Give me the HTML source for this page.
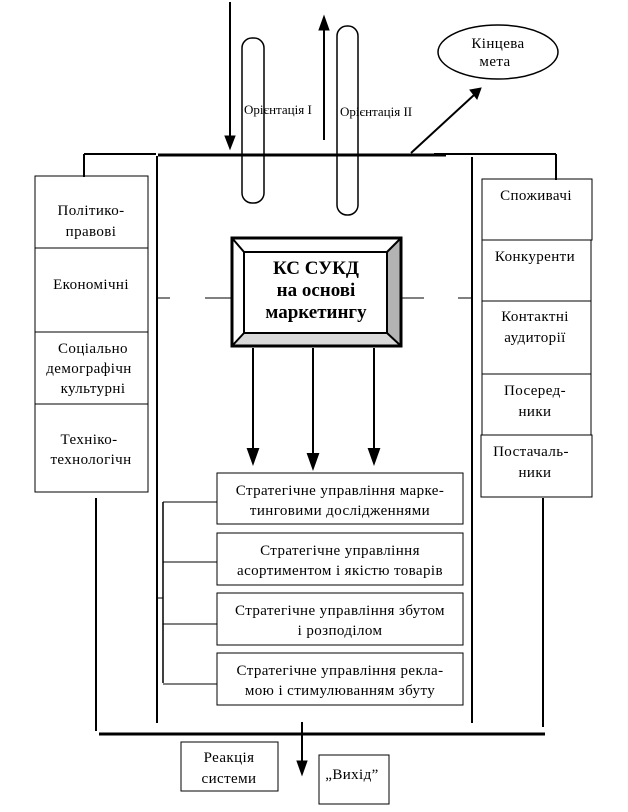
<!DOCTYPE html>
<html><head><meta charset="utf-8"><style>
body{margin:0;background:#fff;width:628px;height:807px;overflow:hidden}
svg text{font-family:"Liberation Serif",serif;font-size:15px;letter-spacing:0.4px;fill:#000}
</style></head><body>
<svg width="628" height="807" viewBox="0 0 628 807" xmlns="http://www.w3.org/2000/svg">
<g stroke="#000" fill="none">
<line x1="230" y1="2" x2="230" y2="136" stroke-width="2"/>
<path d="M225,136 L235,136 L230,149 Z" fill="#000"/>
<line x1="324" y1="140" x2="324" y2="28" stroke-width="2"/>
<path d="M319,30 L329,30 L324,16 Z" fill="#000"/>
<rect x="242" y="38" width="22" height="165" rx="10" stroke-width="1.5"/>
<rect x="337" y="26" width="21" height="189" rx="10" stroke-width="1.5"/>
<ellipse cx="498" cy="52" rx="60" ry="27" stroke-width="1.5"/>
<line x1="411" y1="153" x2="474" y2="95" stroke-width="2"/>
<path d="M470,90 L481,88 L477,99 Z" fill="#000" stroke-width="1"/>
<line x1="158" y1="155" x2="446" y2="155" stroke-width="3"/>
<line x1="84" y1="154" x2="156" y2="154" stroke-width="2"/>
<line x1="434" y1="154" x2="556" y2="154" stroke-width="2"/>
<line x1="84" y1="154" x2="84" y2="177" stroke-width="2"/>
<line x1="556" y1="154" x2="556" y2="180" stroke-width="2"/>
<line x1="157" y1="156" x2="157" y2="723" stroke-width="2"/>
<line x1="472" y1="157" x2="472" y2="723" stroke-width="2"/>
<rect x="35" y="176" width="113" height="316" stroke-width="1"/>
<line x1="35" y1="248" x2="148" y2="248"/><line x1="35" y1="332" x2="148" y2="332"/><line x1="35" y1="404" x2="148" y2="404"/>
<rect x="482" y="179" width="110" height="61"/>
<rect x="482" y="240" width="109" height="61"/>
<rect x="482" y="301" width="109" height="73"/>
<rect x="482" y="374" width="109" height="61"/>
<rect x="481" y="435" width="111" height="62"/>
<line x1="157" y1="298" x2="170" y2="298"/><line x1="205" y1="298" x2="231" y2="298"/>
<line x1="401" y1="298" x2="424" y2="298"/><line x1="458" y1="298" x2="472" y2="298"/>
</g>
<path d="M387,252 L401,238 L401,346 L387,333 Z" fill="#b3b3b3"/>
<path d="M244,333 L387,333 L401,346 L232,346 Z" fill="#d9d9d9"/>
<g stroke="#000" fill="none" stroke-width="2">
<rect x="232" y="238" width="169" height="108" stroke-width="3"/>
<rect x="244" y="252" width="143" height="81"/>
<line x1="232" y1="238" x2="244" y2="252"/><line x1="401" y1="238" x2="387" y2="252"/>
<line x1="232" y1="346" x2="244" y2="333"/><line x1="401" y1="346" x2="387" y2="333"/>
<line x1="253" y1="348" x2="253" y2="450"/><path d="M248,449 L258,449 L253,463 Z" fill="#000"/>
<line x1="313" y1="348" x2="313" y2="455"/><path d="M308,454 L318,454 L313,468 Z" fill="#000"/>
<line x1="374" y1="348" x2="374" y2="450"/><path d="M369,449 L379,449 L374,463 Z" fill="#000"/>
</g>
<g stroke="#000" fill="none" stroke-width="1">
<rect x="217" y="473" width="246" height="51"/>
<rect x="217" y="533" width="246" height="52"/>
<rect x="217" y="593" width="246" height="52"/>
<rect x="217" y="653" width="246" height="52"/>
<line x1="163" y1="502" x2="163" y2="683" stroke-width="1.5"/>
<line x1="163" y1="502" x2="217" y2="502"/><line x1="163" y1="562" x2="217" y2="562"/>
<line x1="163" y1="624" x2="217" y2="624"/><line x1="163" y1="684" x2="217" y2="684"/>
<line x1="156" y1="598" x2="163" y2="598"/>
<line x1="96" y1="498" x2="96" y2="731" stroke-width="2"/>
<line x1="543" y1="498" x2="543" y2="727" stroke-width="2"/>
<line x1="99" y1="734" x2="545" y2="734" stroke-width="3"/>
<line x1="302" y1="722" x2="302" y2="762" stroke-width="2"/>
<path d="M297,761 L307,761 L302,775 Z" fill="#000"/>
<rect x="181" y="742" width="97" height="49"/>
<rect x="319" y="755" width="70" height="49"/>
</g>
<text x="244" y="114" style="font-size:13px;letter-spacing:0">Орієнтація І</text>
<text x="340" y="116" style="font-size:13px;letter-spacing:0">Орієнтація  ІІ</text>
<text x="498" y="48" text-anchor="middle">Кінцева</text>
<text x="495" y="66" text-anchor="middle">мета</text>
<g text-anchor="middle">
<text x="91" y="215">Політико-</text><text x="91" y="236">правові</text>
<text x="91" y="289">Економічні</text>
<text x="93" y="353">Соціально</text><text x="89" y="373">демографічн</text><text x="93" y="393">культурні</text>
<text x="89" y="444">Техніко-</text><text x="91" y="464">технологічн</text>
<text x="536" y="200">Споживачі</text>
<text x="535" y="261">Конкуренти</text>
<text x="535" y="321">Контактні</text><text x="535" y="342">аудиторії</text>
<text x="535" y="395">Посеред-</text><text x="535" y="416">ники</text>
<text x="531" y="456">Постачаль-</text><text x="535" y="477">ники</text>
<text x="316" y="274" style="font-size:19px;font-weight:bold;letter-spacing:0">КС СУКД</text>
<text x="316" y="296" style="font-size:19px;font-weight:bold;letter-spacing:0">на основі</text>
<text x="316" y="318" style="font-size:19px;font-weight:bold;letter-spacing:0">маркетингу</text>
<text x="340" y="495">Стратегічне управління марке-</text><text x="340" y="515">тинговими дослідженнями</text>
<text x="340" y="555">Стратегічне управління</text><text x="340" y="575">асортиментом і якістю товарів</text>
<text x="340" y="615">Стратегічне управління збутом</text><text x="340" y="635">і розподілом</text>
<text x="340" y="675">Стратегічне управління рекла-</text><text x="340" y="695">мою і стимулюванням збуту</text>
<text x="229" y="762">Реакція</text><text x="229" y="783">системи</text>
<text x="352" y="779">„Вихід”</text>
</g>
</svg>
</body></html>
